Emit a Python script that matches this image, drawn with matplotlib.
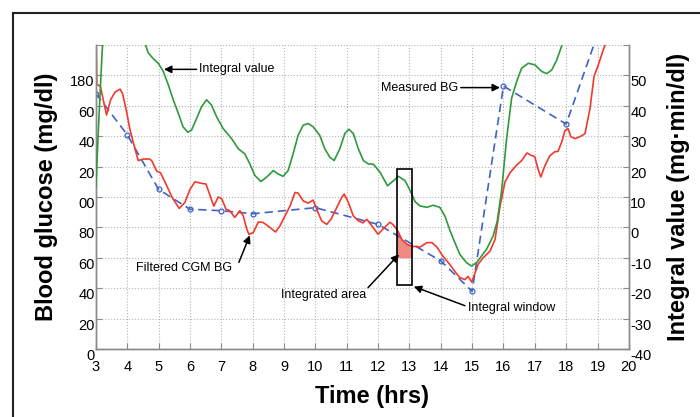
import numpy as np
import matplotlib
matplotlib.use('Agg')
import matplotlib.pyplot as plt
from matplotlib.patches import Rectangle
from matplotlib.lines import Line2D

plt.rcParams['font.family'] = ['Liberation Sans', 'DejaVu Sans']

# measured (finger stick) BG, mg/dl
t_meas = [3, 4, 5, 6, 7, 8, 10, 12, 14, 15, 16, 18, 19]
bg_meas = [168, 141, 105, 92, 91, 89, 93, 82, 58, 38, 173, 148, 207]

# filtered CGM trace, mg/dl
t_cgm = [3.00, 3.03, 3.14, 3.34, 3.47, 3.61, 3.77, 3.85, 3.98, 4.08, 4.19, 4.35,
         4.51, 4.70, 4.78, 4.94, 5.06, 5.20, 5.45, 5.66, 5.84, 6.00, 6.16, 6.37,
         6.51, 6.64, 6.76, 6.90, 7.01, 7.15, 7.27, 7.43, 7.59, 7.70, 7.81, 7.88,
         8.02, 8.18, 8.34, 8.55, 8.73, 8.87, 9.03, 9.19, 9.35, 9.45, 9.61, 9.77,
         9.93, 10.04, 10.20, 10.36, 10.50, 10.68, 10.84, 10.92, 11.05, 11.21,
         11.37, 11.52, 11.64, 11.84, 12.00, 12.15, 12.38, 12.47, 12.60, 12.76,
         12.92, 13.08, 13.24, 13.33, 13.56, 13.72, 13.88, 14.07, 14.29, 14.45,
         14.61, 14.77, 14.87, 14.99, 15.09, 15.20, 15.35, 15.57, 15.73, 15.89,
         16.05, 16.21, 16.42, 16.58, 16.75, 16.88, 17.00, 17.10,
         17.19, 17.32, 17.48, 17.64, 17.74, 17.86, 17.96, 18.06, 18.15, 18.28,
         18.44, 18.60, 18.76, 18.89, 19.01, 19.17, 19.33, 19.50]
bg_cgm = [212, 174, 173, 154, 164, 169, 171, 168, 156, 145, 136, 124,
          125, 125, 124, 117, 116, 110, 99, 92.5, 96.5, 105, 110, 109,
          108.6, 101, 94, 100, 99, 92, 91, 86.6, 91, 87.6, 79, 75.5,
          76.6, 83.6, 83.2, 80, 77, 81, 87.6, 94, 103, 102.6, 97.5, 96,
          98, 92, 84.3, 82, 85.4, 93, 99.8, 102, 96.5, 87.6,
          84.3, 83, 85.4, 80, 75.5, 78.8, 83.4, 82, 78.8, 72,
          69, 67.5, 67.5, 67, 70, 70, 67, 61, 55.6, 51,
          47, 45.7, 47.7, 44, 50, 56, 60, 64.4, 72, 94,
          110, 116, 121, 124, 129, 127.5, 126.5, 118.5,
          113.2, 120.5, 127.2, 129.8, 130, 136.4, 143.7, 145, 139.7, 138.4,
          139.7, 141.7, 158.3, 179.5, 186, 196, 205, 215]

# integral value, mg*min/dl (right axis)
t_int = [3.00, 3.10, 3.20, 3.30, 4.40, 4.51, 4.67, 4.83, 4.99, 5.15, 5.31, 5.47,
         5.63, 5.78, 5.93, 6.05, 6.21, 6.37, 6.53, 6.69, 6.85, 7.06, 7.20, 7.33,
         7.54, 7.75, 7.91, 8.07, 8.26, 8.44, 8.66, 8.81, 8.97, 9.13, 9.29, 9.45,
         9.61, 9.77, 9.93, 10.14, 10.30, 10.46, 10.60, 10.78, 10.94, 11.07, 11.21,
         11.37, 11.53, 11.69, 11.85, 12.06, 12.30, 12.45, 12.65, 12.86, 13.04,
         13.18, 13.33, 13.55, 13.76, 13.97, 14.13, 14.29, 14.45, 14.61, 14.82,
         14.98, 15.14, 15.30, 15.46, 15.67, 15.80, 15.94, 16.10, 16.26, 16.42,
         16.58, 16.79, 17.00, 17.22, 17.38, 17.54, 17.70, 17.86, 17.96, 18.10]
integral = [13.5, 37, 58, 72, 68, 62.3, 57.4, 55.5, 54.0, 51.3, 46.9, 41.9,
            37.5, 33.1, 31.3, 32.0, 35.8, 39.7, 42.0, 40.2, 36.4, 32.5, 30.8, 29.2,
            25.9, 24.2, 20.9, 17.1, 15.1, 16.5, 18.7, 17.6, 16.8, 18.7, 24.2, 30.3,
            33.6, 34.2, 33.1, 30.3, 25.9, 23.1, 22.0, 25.9, 30.9, 32.3, 30.9,
            25.9, 22.0, 20.9, 20.8, 18.2, 13.7, 15.0, 16.8, 15.4, 11.8,
            8.5, 7.1, 6.6, 7.3, 6.6, 3.8, -0.9, -5.0, -8.9, -11.6,
            -12.7, -11.6, -9.4, -7.2, -2.8, 2, 12, 29.2, 42.5, 48,
            52.4, 54.0, 53.5, 51.3, 50.6, 51.8, 55.1, 59.8, 62.3, 66]

# integral window (hrs, mg/dl) and level the shaded area is measured down to
win_t0, win_t1 = 12.59, 13.09
win_lo, win_hi = 42.4, 118.5
shade_floor = 60

left_labels = ['0', '20', '40', '60', '80', '00', '20', '40', '60', '180', '']
right_labels = ['-40', '-30', '-20', '-10', '0', '10', '20', '30', '40', '50', '']

red = '#f2392b'
green = '#2f9a3c'
blue = '#3f62c6'
gray = '#8a8a8a'

fig = plt.figure(figsize=(7, 4.17), dpi=100)
ax = fig.add_axes([0.137, 0.163, 0.7614, 0.729])
ax2 = ax.twinx()

ax.set_xlim(3, 20)
ax.set_ylim(0, 200)
ax2.set_ylim(-40, 60)

ax.set_xticks(range(3, 21))
ax.set_yticks(range(0, 201, 20))
ax.set_yticklabels(left_labels, va='top')
ax2.set_yticks(range(-40, 61, 10))
ax2.set_yticklabels(right_labels, va='top')

ax.grid(True, ls=':', color='#b5b5b5', lw=0.8)
ax.tick_params(axis='both', direction='in', length=4, color=gray, labelsize=10.5)
ax.tick_params(axis='x', pad=8)
ax.tick_params(axis='y', pad=1)
ax2.tick_params(axis='y', direction='in', length=4, color=gray, labelsize=10.5, pad=1)

for a in (ax, ax2):
    a.spines['top'].set_visible(False)
    for s in ('left', 'bottom', 'right'):
        a.spines[s].set_color(gray)
        a.spines[s].set_linewidth(1.0)

# shaded integrated area inside window
xs = np.linspace(win_t0, win_t1, 60)
ys = np.interp(xs, t_cgm, bg_cgm)
ax.fill_between(xs, ys, shade_floor, color='#f28a84', lw=0, zorder=2)

ax.plot(t_meas, bg_meas, ls='--', dashes=(5, 3), marker='o', ms=3.5, mfc='none',
        mew=0.9, color=blue, lw=1.2, zorder=3)
ax.plot(t_cgm, bg_cgm, color=red, lw=1.2, zorder=4, solid_joinstyle='round')
ax2.plot(t_int, integral, color=green, lw=1.2, zorder=3, solid_joinstyle='round')

ax2.add_patch(Rectangle((win_t0, win_lo / 2 - 40), win_t1 - win_t0,
                        (win_hi - win_lo) / 2, fill=False, ec='k', lw=1.2, zorder=6))

arrow = dict(arrowstyle='-|>', color='k', lw=1.1, mutation_scale=11, shrinkA=0, shrinkB=0)
ax.annotate('Integral value', xy=(5.17, 184), xytext=(6.3, 184), fontsize=9,
            va='center', ha='left', arrowprops=arrow, annotation_clip=False)
ax.annotate('Measured BG', xy=(15.89, 172), xytext=(14.55, 172), fontsize=9,
            va='center', ha='right', arrowprops=arrow, annotation_clip=False)
ax.annotate('', xy=(7.91, 74.8), xytext=(7.56, 57), arrowprops=arrow)
ax.text(5.81, 53.6, 'Filtered CGM BG', fontsize=9, ha='center', va='center')
ax.annotate('', xy=(12.67, 62.3), xytext=(11.68, 40.4), arrowprops=arrow)
ax.text(10.27, 35.8, 'Integrated area', fontsize=9, ha='center', va='center')
ax.annotate('', xy=(13.14, 41.1), xytext=(14.77, 28.5), arrowprops=arrow)
ax.text(16.27, 27.2, 'Integral window', fontsize=9, ha='center', va='center')

fig.text(47 / 700, 1 - 197 / 417, 'Blood glucose (mg/dl)', rotation=90, fontsize=17,
         fontweight='bold', ha='center', va='center')
fig.text(679 / 700, 1 - 197 / 417, 'Integral value (mg·min/dl)', rotation=90, fontsize=17,
         fontweight='bold', ha='center', va='center')
fig.text(372 / 700, 1 - 396 / 417, 'Time (hrs)', fontsize=17, fontweight='bold',
         ha='center', va='center')

# outer frame (left and top edges only visible)
fig.add_artist(Line2D([13 / 700, 1], [1 - 13 / 417] * 2, transform=fig.transFigure,
                      color='#222222', lw=1.5))
fig.add_artist(Line2D([13 / 700] * 2, [0, 1 - 13 / 417], transform=fig.transFigure,
                      color='#222222', lw=1.5))

fig.savefig('out.png', dpi=100)
